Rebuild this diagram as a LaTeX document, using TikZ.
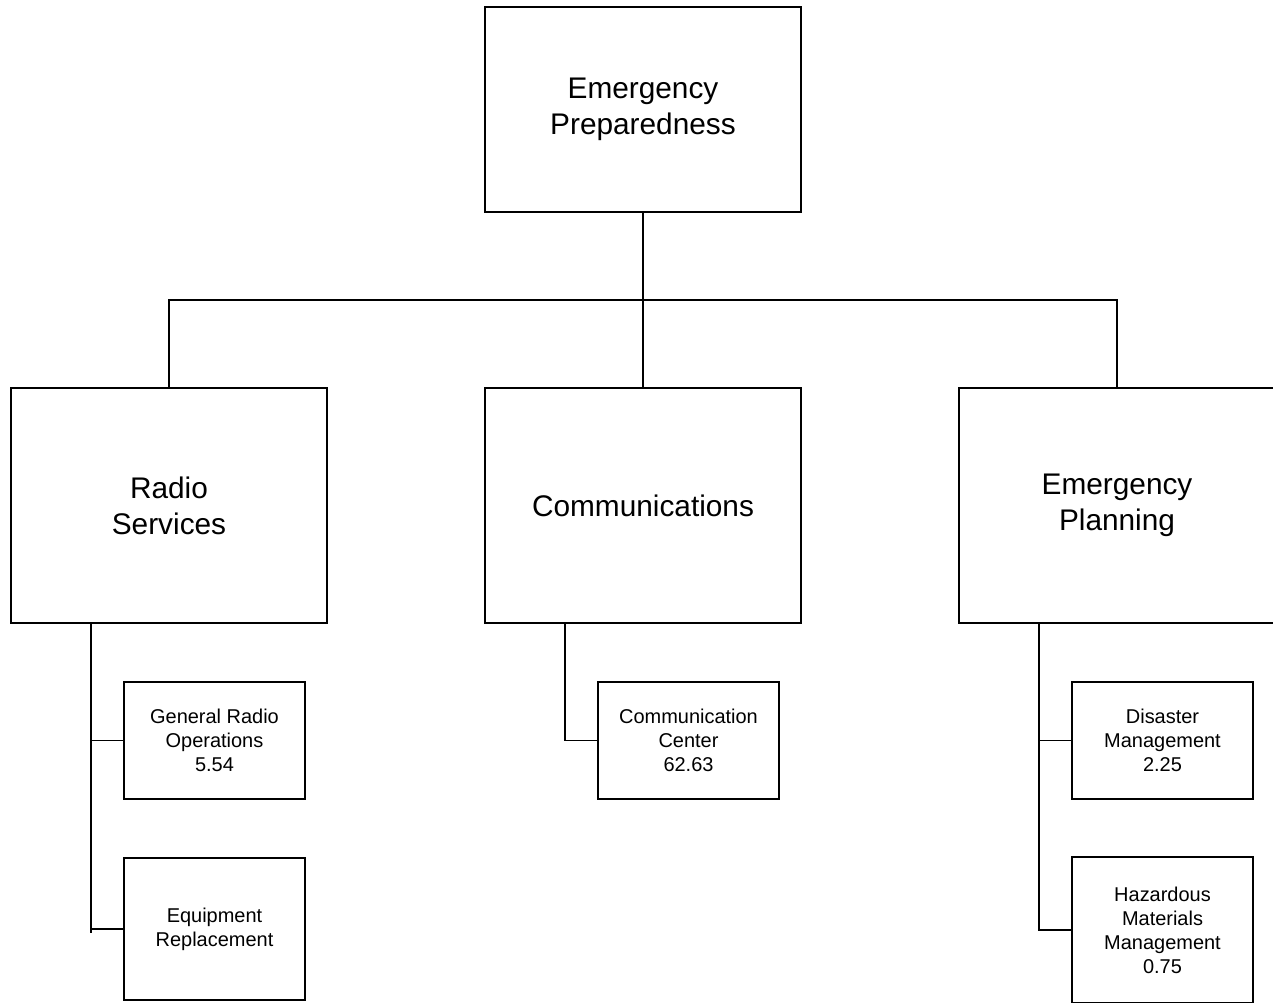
\documentclass[tikz,border=0pt]{standalone}
\usepackage{fontspec}
\setmainfont{Liberation Sans}

\tikzset{
    bigbox/.style={draw, line width=1pt, minimum width=316*0.025cm, align=center,
        font=\fontsize{21.2}{25.4}\selectfont},
    smallbox/.style={draw, line width=1pt, minimum width=181*0.025cm, align=center,
        font=\fontsize{14.2}{17}\selectfont},
    link/.style={line width=1pt}
}

\begin{document}
\begin{tikzpicture}[x=0.025cm, y=-0.025cm]
    \useasboundingbox (0,0) rectangle (1273,1003);
    % top level
    \node [bigbox, minimum height=205*0.025cm] (prep) at (643,109.5) {Emergency\\Preparedness};
    % second level
    \node [bigbox, minimum height=235*0.025cm] (radio) at (169,505.5) {Radio\\Services};
    \node [bigbox, minimum height=235*0.025cm] (comm) at (643,505.5) {Communications};
    \node [bigbox, minimum height=235*0.025cm] (plan) at (1117,505.5) {Emergency\\Planning};
    % third level
    \node [smallbox, minimum height=117*0.025cm] (genradio) at (214.5,740.5) {General Radio\\Operations\\5.54};
    \node [smallbox, minimum height=142*0.025cm] (equip) at (214.5,929) {Equipment\\Replacement};
    \node [smallbox, minimum height=117*0.025cm] (center) at (688.5,740.5) {Communication\\Center\\62.63};
    \node [smallbox, minimum height=117*0.025cm] (disaster) at (1162.5,740.5) {Disaster\\Management\\2.25};
    \node [smallbox, minimum height=146*0.025cm] (hazmat) at (1162.5,930) {Hazardous\\Materials\\Management\\0.75};
    % connectors
    \coordinate (bus) at (643,300);
    \draw [link] (prep.south) -- (comm.north);
    \draw [link] (radio.north) |- (bus) -| (plan.north);
    \coordinate (radiotrunk) at (91,623);
    \coordinate (radioend) at (91,933);
    \draw [link] (radiotrunk) -- (radioend);
    \draw [link] (radiotrunk) |- (genradio.west);
    \draw [link] (radiotrunk) |- (equip.west);
    \coordinate (commtrunk) at (565,623);
    \draw [link] (commtrunk) |- (center.west);
    \coordinate (plantrunk) at (1039,623);
    \draw [link] (plantrunk) |- (disaster.west);
    \draw [link] (plantrunk) |- (hazmat.west);
\end{tikzpicture}
\end{document}
